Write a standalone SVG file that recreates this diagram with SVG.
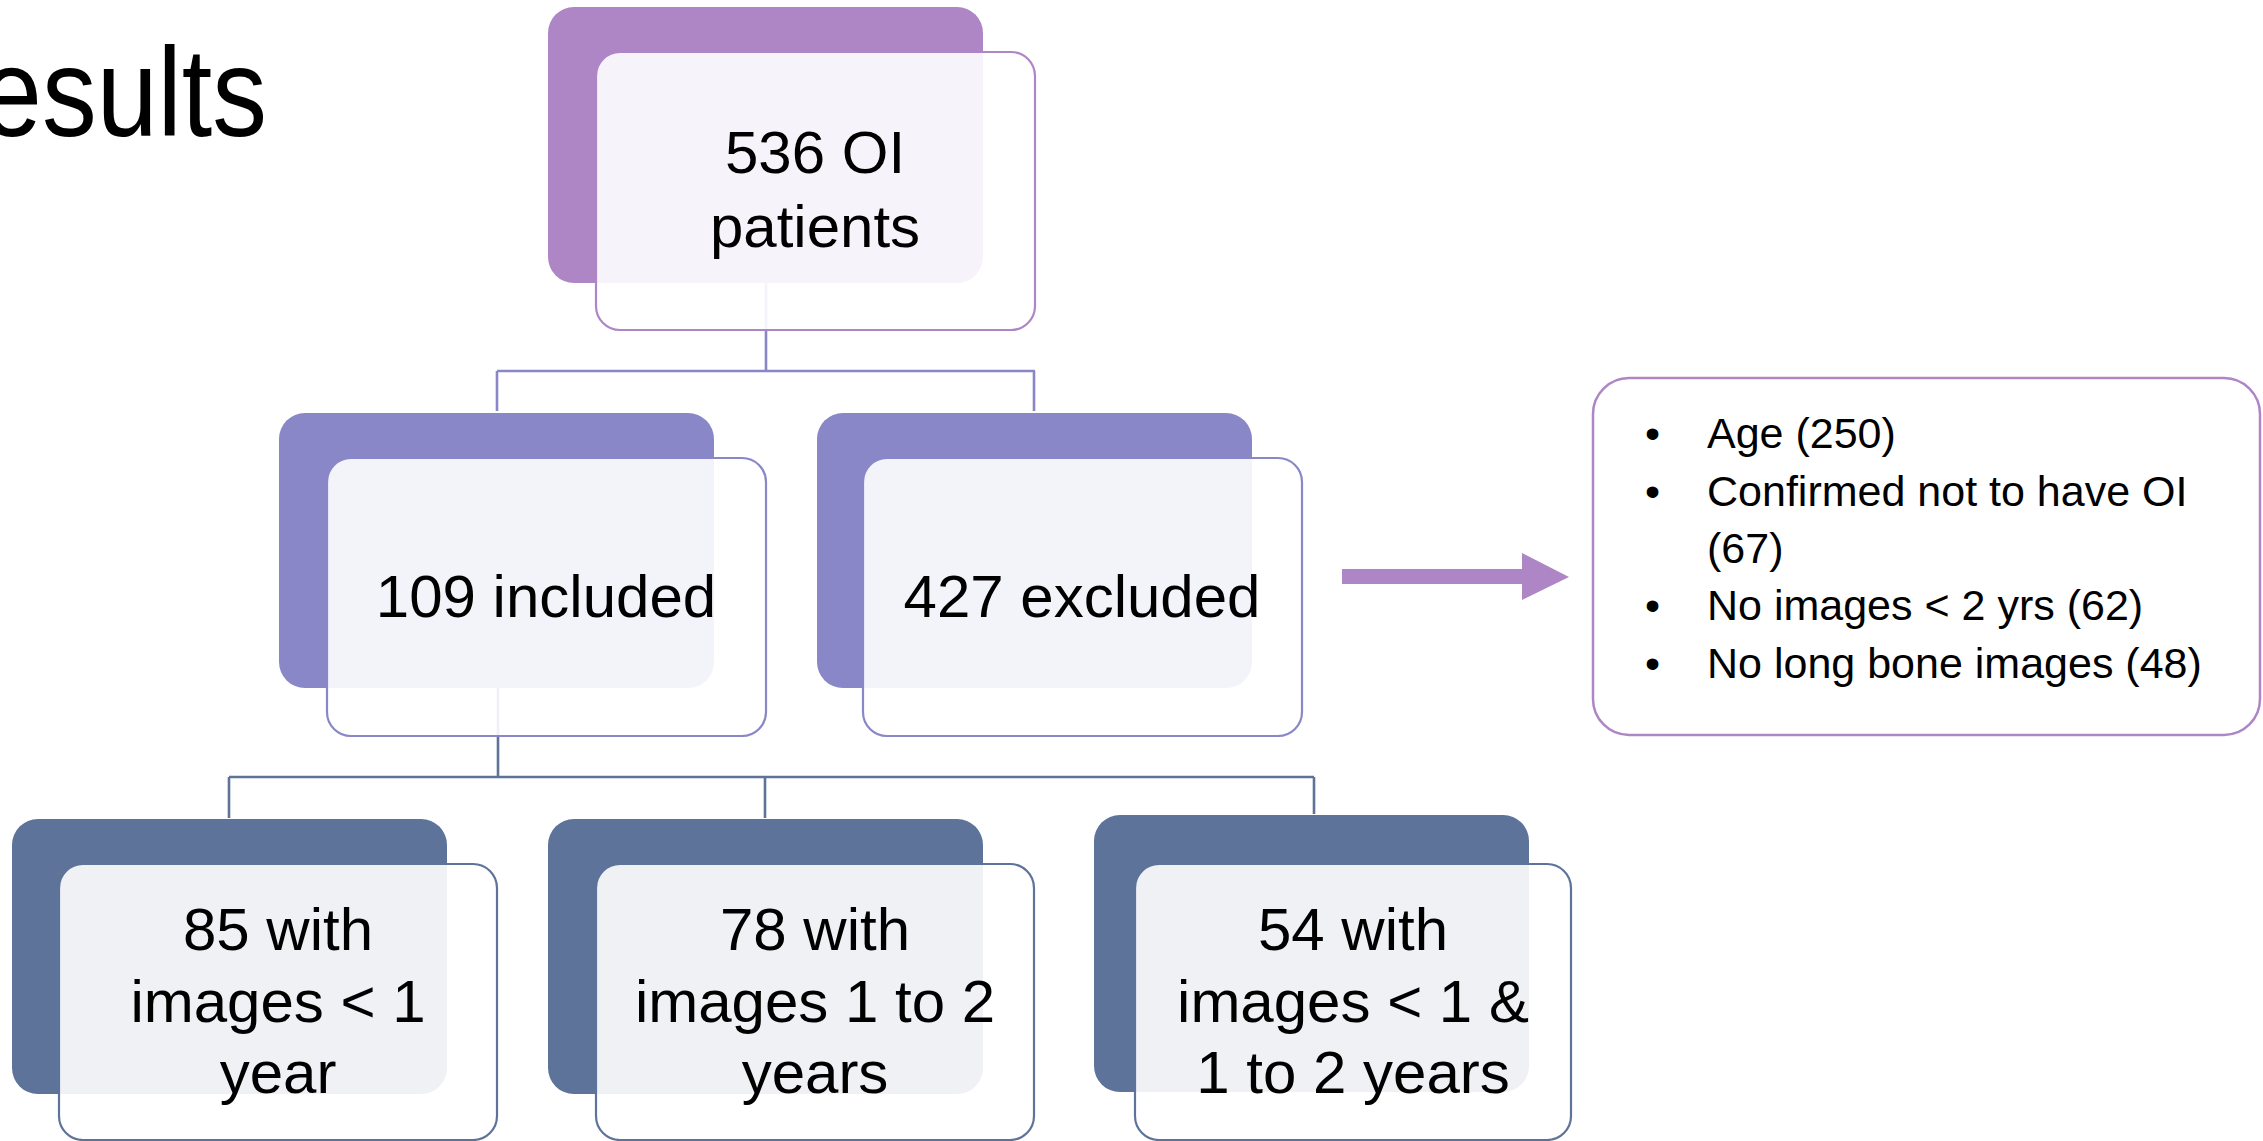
<svg xmlns="http://www.w3.org/2000/svg" width="2263" height="1141" viewBox="0 0 2263 1141">
<style>
.t{font-family:"Liberation Sans",Arial,sans-serif;fill:#000;}
.n{font-size:60px;text-anchor:middle;}
.b{font-size:43px;}
.lt{fill:#fff;fill-opacity:0.9;stroke-width:2.2;}
.p .dk{fill:#AE86C6;} .p .lt{stroke:#AE86C6;}
.m .dk{fill:#8987C7;} .m .lt{stroke:#8987C7;}
.s .dk{fill:#5E7399;} .s .lt{stroke:#5E7399;}
.cm{stroke:#8987C7;stroke-width:2.6;fill:none;}
.cs{stroke:#5E7399;stroke-width:2.6;fill:none;}
</style>
<rect width="2263" height="1141" fill="#fff"/>
<text class="t" x="-19" y="136" font-size="126" textLength="286" lengthAdjust="spacingAndGlyphs">esults</text>
<g id="connectors">
<path class="cm" d="M766 283V371M497 371H1035M497 371V411M1034 371V411"/>
<path class="cs" d="M498 688V777M229 777H1314M229 777V818M765 777V818M1314 777V814"/>
<polygon points="1342,569 1522,569 1522,553 1569,577 1522,600 1522,584 1342,584" fill="#AE86C6"/>
</g>
<g id="n536" class="p">
<rect class="dk" x="548" y="7" width="435" height="276" rx="26"/>
<rect class="lt" x="596" y="52" width="439" height="278" rx="24"/>
<text class="t n" x="815" y="173">536 OI</text>
<text class="t n" x="815" y="247">patients</text>
</g>
<g id="n109" class="m">
<rect class="dk" x="279" y="413" width="435" height="275" rx="26"/>
<rect class="lt" x="327" y="458" width="439" height="278" rx="24"/>
<text class="t n" x="546" y="617">109 included</text>
</g>
<g id="n427" class="m">
<rect class="dk" x="817" y="413" width="435" height="275" rx="26"/>
<rect class="lt" x="863" y="458" width="439" height="278" rx="24"/>
<text class="t n" x="1082" y="617">427 excluded</text>
</g>
<g id="n85" class="s">
<rect class="dk" x="12" y="819" width="435" height="275" rx="26"/>
<rect class="lt" x="59" y="864" width="438" height="276" rx="24"/>
<text class="t n" x="278" y="950">85 with</text>
<text class="t n" x="278" y="1022">images &lt; 1</text>
<text class="t n" x="278" y="1093">year</text>
</g>
<g id="n78" class="s">
<rect class="dk" x="548" y="819" width="435" height="275" rx="26"/>
<rect class="lt" x="596" y="864" width="438" height="276" rx="24"/>
<text class="t n" x="815" y="950">78 with</text>
<text class="t n" x="815" y="1022">images 1 to 2</text>
<text class="t n" x="815" y="1093">years</text>
</g>
<g id="n54" class="s">
<rect class="dk" x="1094" y="815" width="435" height="277" rx="26"/>
<rect class="lt" x="1135" y="864" width="436" height="276" rx="24"/>
<text class="t n" x="1353" y="950">54 with</text>
<text class="t n" x="1353" y="1022">images &lt; 1 &amp;</text>
<text class="t n" x="1353" y="1093">1 to 2 years</text>
</g>
<g id="reasons">
<rect x="1593" y="378" width="667" height="357" rx="36" fill="#fff" stroke="#AE86C6" stroke-width="2.5"/>
<g class="t b">
<text x="1645" y="448">•</text><text x="1707" y="448">Age (250)</text>
<text x="1645" y="506">•</text><text x="1707" y="506">Confirmed not to have OI</text>
<text x="1707" y="563">(67)</text>
<text x="1645" y="620">•</text><text x="1707" y="620">No images &lt; 2 yrs (62)</text>
<text x="1645" y="678">•</text><text x="1707" y="678">No long bone images (48)</text>
</g>
</g>
</svg>
